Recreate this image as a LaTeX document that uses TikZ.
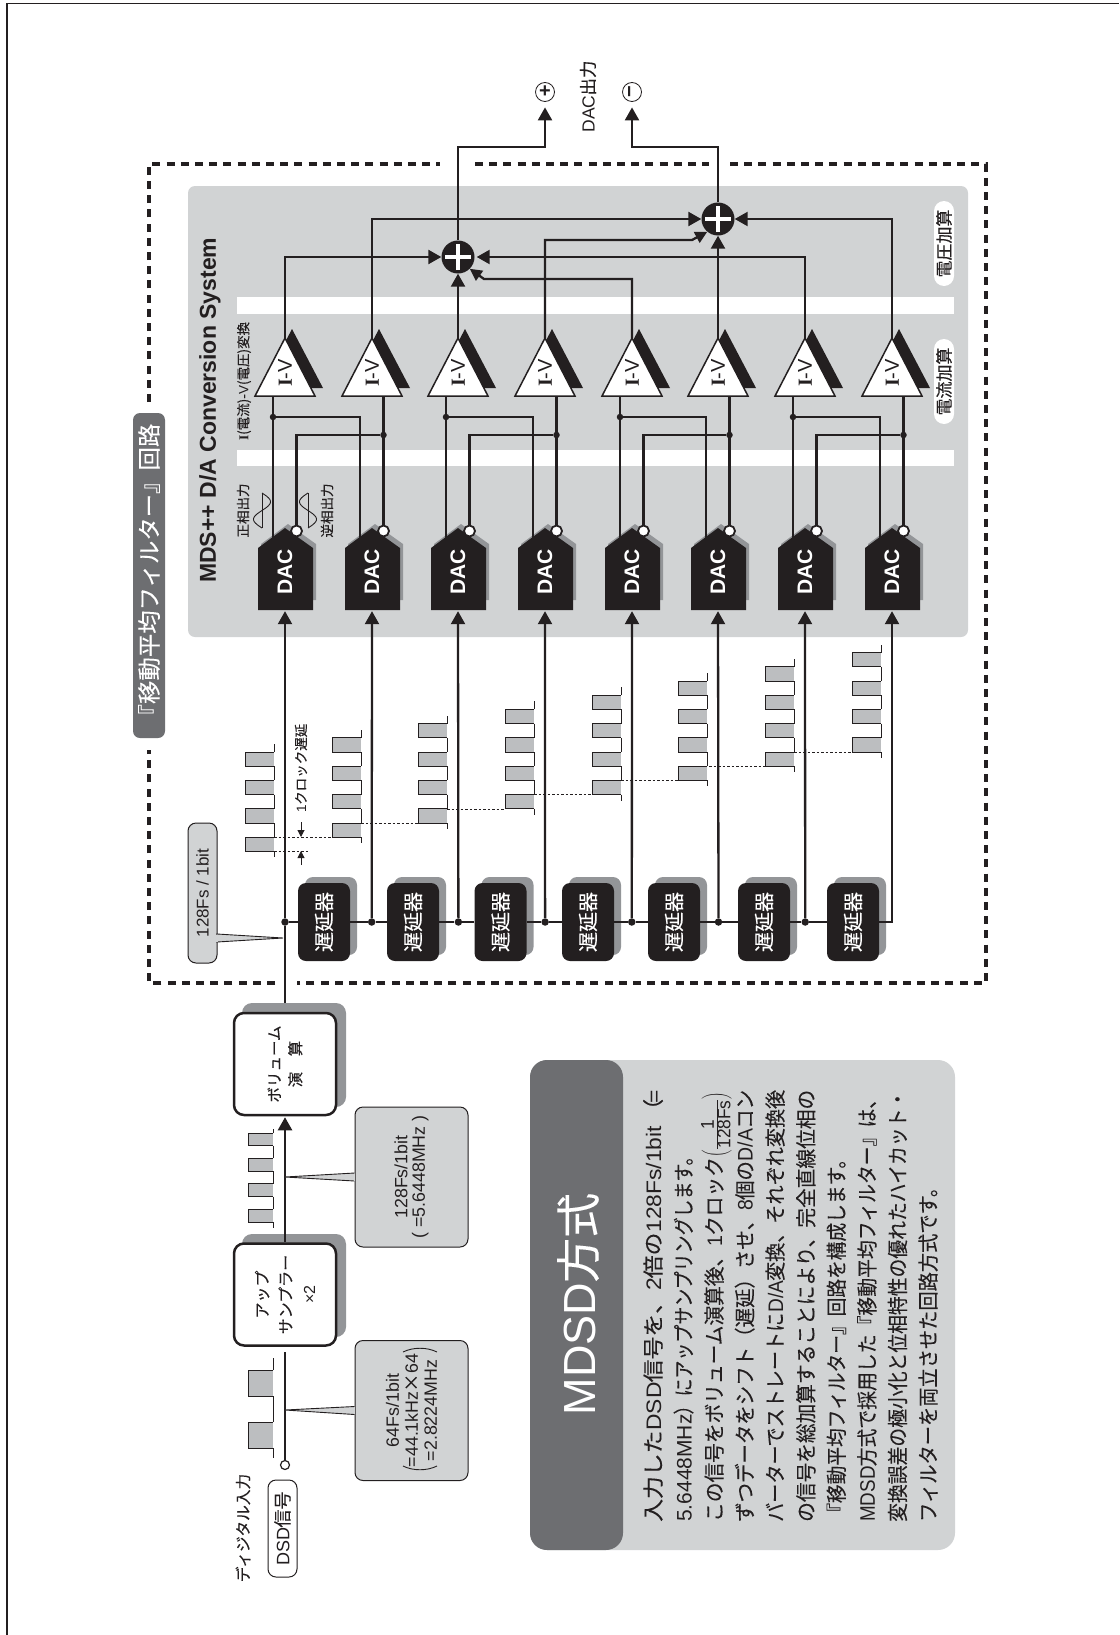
\documentclass[tikz,border=0pt]{standalone}
\usepackage{graphicx}
\usepackage{fontspec}
\setmainfont{Liberation Sans}
\newfontfamily\jpfont[FakeBold=0.12]{Noto Sans CJK JP}
\newfontfamily\serifI[BoldFont={Liberation Serif Bold}]{Liberation Serif}
\usetikzlibrary{arrows.meta}

\definecolor{inkblack}{HTML}{231F20}
\definecolor{panelgrey}{HTML}{D1D3D4}
\definecolor{pulsegrey}{HTML}{BCBEC0}
\definecolor{shadegrey}{HTML}{939598}
\definecolor{bandgrey}{HTML}{6D6E71}

\newcommand{\jp}[1]{{\jpfont #1}}
\newcommand{\fz}[1]{\fontsize{#1}{#1}\selectfont}
\newcommand{\ivI}{{\serifI\bfseries I}}

% squeezes one text line to a given length
\newsavebox{\linebox}
\newlength{\linew}
\newcommand{\fitline}[2]{%
  \sbox{\linebox}{#2}%
  \setlength{\linew}{\wd\linebox}%
  \pgfmathsetmacro{\fitx}{#1/\linew}%
  \scalebox{\fitx}[1]{\usebox{\linebox}}%
}

% pulses: left x, right x, first y, height, period, count-1, lead, tail
\newcommand{\pulses}[8]{%
  \foreach \k in {0,...,#6} {
    \pgfmathsetmacro{\ya}{#3+\k*#5}
    \pgfmathsetmacro{\yb}{\ya+#4}
    \pgfmathsetmacro{\yc}{\yb+#5-#4}
    \fill[pulsegrey] (#1,\ya) rectangle (#2,\yb);
    \draw[wave] (#2,\ya) -- (#1,\ya) -- (#1,\yb) -- (#2,\yb);
    \ifnum\k<#6 \draw[wave] (#2,\yb) -- (#2,\yc); \fi
  }
  \draw[wave] (#2,#3) -- (#2,#3-#7);
  \pgfmathsetmacro{\yd}{#3+#6*#5+#4}
  \draw[wave] (#2,\yd) -- (#2,\yd+#8);
}

\tikzset{
  sig/.style={draw=inkblack, line width=2.3pt},
  sigtip/.style={sig, -{Triangle[length=13pt,width=14pt]}},
  smalltip/.style={sig, -{Triangle[length=12pt,width=12pt]}},
  wave/.style={draw=inkblack, line width=0.9pt},
  thinline/.style={draw=inkblack, line width=0.9pt},
  dotted line/.style={draw=inkblack, line width=1pt, dash pattern=on 2.5pt off 2pt},
  frameline/.style={draw=inkblack, line width=4pt, dash pattern=on 8pt off 6.2pt},
  dotnode/.style={circle, fill=inkblack, minimum size=7.5pt, inner sep=0pt},
  sumnode/.style={circle, fill=inkblack, minimum size=33pt, inner sep=0pt},
  outnode/.style={circle, draw=inkblack, line width=0.8pt, minimum size=19pt, inner sep=0pt, font=\bfseries\fz{20}},
  dacpin/.style={circle, draw=inkblack, fill=white, line width=1.8pt, minimum size=11pt, inner sep=0pt},
  daclabel/.style={rotate=90, minimum width=76pt, inner sep=0pt, text=white, font=\bfseries\fz{21}},
  ivlabel/.style={rotate=90, inner sep=0pt, font=\fz{20}},
  delaybox/.style={rotate=90, rounded corners=8pt, fill=inkblack, minimum width=78pt, minimum height=52pt, inner sep=0pt, text=white, font=\fz{20}},
  procbox/.style={rotate=90, rounded corners=10pt, draw=inkblack, fill=white, line width=2.5pt, minimum width=102pt, minimum height=102pt, inner sep=0pt, align=center},
  callout/.style={rotate=90, rounded corners=8pt, draw=inkblack, fill=panelgrey, line width=1pt, minimum height=113pt, minimum width=140pt, inner sep=0pt, align=center},
  pill/.style={rotate=90, rounded corners=10pt, fill=white, minimum width=85pt, minimum height=20pt, inner sep=0pt, font=\fz{17}},
  tinytext/.style={rotate=90, inner sep=0pt, font=\fz{13.5}},
  bodyline/.style={rotate=90, anchor=base west, inner sep=0pt, font=\fz{21}},
}

\begin{document}
\begin{tikzpicture}[x=1pt, y=-1pt, text=inkblack]
  \useasboundingbox (0,0) rectangle (1119,1635);

  % -- Page edge --
  \draw[draw=inkblack, line width=1.5pt] (7,1635) -- (7,3.5) -- (1119,3.5);

  % -- Circuit frame --
  \draw[frameline] (149,402) -- (149,164) -- (440,164);
  \draw[frameline] (475,164) -- (709,164);
  \draw[frameline] (730,164) -- (986,164) -- (986,983) -- (297,983);
  \draw[frameline] (275,983) -- (149,983) -- (149,750);
  \node[rotate=90, rounded corners=7pt, fill=bandgrey, minimum width=325pt, minimum height=32pt, inner sep=0pt, text=white, font=\fz{23.4}] (filtertag) at (149,575.5) {\jp{『移動平均フィルター』回路}};

  % -- D/A panel --
  \fill[panelgrey, rounded corners=7pt] (188,186) rectangle (968,637);
  \fill[white] (237,297) rectangle (954,314);
  \fill[white] (237,450) rectangle (954,466);
  \node[rotate=90, anchor=west, inner sep=0pt, font=\bfseries\fz{23}] (systitle) at (210,583) {MDS++ D/A Conversion System};
  \node[tinytext] (ivnote) at (244,381) {\ivI\jp{(電流)-}V\jp{(電圧)変換}};
  \node[pill] (sumvolt) at (944,243.5) {\jp{電圧加算}};
  \node[pill] (sumcurr) at (944,381.5) {\jp{電流加算}};
  \node[tinytext] (posnote) at (243,510.5) {\jp{正相出力}};
  \node[tinytext] (negnote) at (327,510.5) {\jp{逆相出力}};
  \draw[thinline] (262,493) -- (262,528);
  \draw[thinline] plot[domain=0:360, samples=37, smooth] ({262+8.5*sin(\x)},{493+35*\x/360});
  \draw[thinline] (308,493) -- (308,528);
  \draw[thinline] plot[domain=0:360, samples=37, smooth] ({308-8.5*sin(\x)},{493+35*\x/360});

  % -- Columns: I-V, DAC, tap --
  \foreach \x [count=\i] in {285,372,458,545,632,718,805,892} {
    \fill[inkblack] (\x+7,329) -- (\x+38,388) -- (\x-24,388) -- cycle;
    \filldraw[draw=inkblack, fill=white, line width=1.5pt] (\x,338) -- (\x+30,396) -- (\x-30,396) -- cycle;
    \node[ivlabel] (iv\i) at (\x,373) {\ivI-V};
    \coordinate (apex\i) at (\x,338);
    \coordinate (ivp\i) at (\x-12,396);
    \coordinate (ivn\i) at (\x+11.5,396);
    \coordinate (dacp\i) at (\x-12,540);
    \fill[shadegrey] (\x-24,600) -- (\x+31,600) -- (\x+31,544) -- (\x+3,524) -- (\x-24,544) -- cycle;
    \fill[inkblack] (\x-27,610) -- (\x+28,610) -- (\x+28,548) -- (\x,528) -- (\x-27,548) -- cycle;
    \node[daclabel] (dac\i) at (\x,572) {DAC};
    \node[dacpin] (dacn\i) at (\x+11.5,531) {};
    \pgfmathsetmacro{\firsty}{752-14.2*(\i-1)}
    \pulses{\x-40}{\x-11}{\firsty}{14.2}{28.4}{3}{8}{6}
  }
  \foreach \i in {1,...,7} {
    \pgfmathsetmacro{\tapx}{285+86.7*(\i-1)}
    \node[dotnode] (tap\i) at (\tapx,922) {};
  }

  % -- Current summing wires --
  \foreach \a/\b in {1/2,3/4,5/6,7/8} {
    \draw[sig] (ivp\a) -- (dacp\a);
    \node[dotnode, minimum size=6.5pt] (jp\a) at (dacp\a |- 0,417) {};
    \draw[sig] (jp\a) -| (dacp\b);
    \draw[sig] (ivn\b) -- (dacn\b);
    \node[dotnode, minimum size=6.5pt] (jn\b) at (dacn\b |- 0,435) {};
    \draw[sig] (jn\b) -| (dacn\a);
  }

  % -- Voltage summing --
  \node[sumnode] (sumP) at (458,257) {};
  \node[sumnode] (sumN) at (718,219) {};
  \foreach \s in {sumP,sumN} {
    \draw[draw=white, line width=3.5pt] ([xshift=-13pt]\s.center) -- ([xshift=13pt]\s.center);
    \draw[draw=white, line width=3.5pt] ([yshift=-13pt]\s.center) -- ([yshift=13pt]\s.center);
  }
  \coordinate (elbowP) at (484,279);
  \coordinate (elbowN) at (692,240);
  \draw[sigtip] (apex1) |- (sumP.west);
  \draw[sigtip] (apex3) -- (sumP.south);
  \draw[sigtip, shorten >=2pt] (apex7) |- (sumP.east);
  \draw[smalltip] (apex5) |- (elbowP) -- (sumP.-45);
  \draw[sigtip] (apex2) |- (sumN.west);
  \draw[sigtip] (apex6) -- (sumN.south);
  \draw[sigtip] (apex8) |- (sumN.east);
  \draw[smalltip] (apex4) |- (elbowN) -- (sumN.230);

  % -- Outputs --
  \node[outnode] (outP) at (545,92) {+};
  \node[outnode, rotate=90] (outN) at (632,92) {−};
  \coordinate (turnP) at (545,147);
  \coordinate (turnN) at (632,147);
  \draw[sigtip, shorten >=5.5pt] (sumP.north) |- (turnP) -- (outP.south);
  \draw[sigtip, shorten >=5.5pt] (sumN.north) |- (turnN) -- (outN.west);
  \node[rotate=90, inner sep=0pt, font=\fz{17.5}] (dacout) at (588,96.5) {DAC\jp{出力}};

  % -- Delay chain --
  \foreach \x [count=\i] in {324,413,500.5,588,674,764,853} {
    \fill[shadegrey, rounded corners=8pt] (\x-19,877) rectangle (\x+33,955);
    \node[delaybox] (del\i) at (\x,922) {\jp{遅延器}};
  }
  \foreach \i [count=\j from 2] in {1,...,6} {
    \draw[sig] (tap\i) -- (del\i.north);
    \draw[sig] (del\i.south) -- (tap\j);
  }
  \draw[sig] (tap7) -- (del7.north);
  \foreach \i in {1,...,7} {
    \draw[sigtip, shorten >=1pt] (tap\i) -- (dac\i.west);
  }
  \draw[sigtip, shorten >=1pt] (del7.south) -| (dac8.west);

  % -- Clock skew marks --
  \foreach \xa/\xb/\y in {274/332/837,361/418/823,447/505/809,534/592/794.6,621/680/780,709/766/766,794/854/752} {
    \draw[dotted line] (\xa,\y) -- (\xb,\y);
  }
  \draw[dotted line] (274,851) -- (308,851);
  \coordinate (skewA) at (301,822);
  \coordinate (skewB) at (301,837);
  \coordinate (skewC) at (301,865);
  \coordinate (skewD) at (301,851);
  \draw[draw=inkblack, line width=1pt, -{Triangle[length=7pt,width=7pt]}] (skewA) -- (skewB);
  \draw[draw=inkblack, line width=1pt, -{Triangle[length=7pt,width=7pt]}] (skewC) -- (skewD);
  \node[rotate=90, inner sep=0pt, font=\fz{13.5}] (clocknote) at (301,768) {1\jp{クロック遅延}};

  % -- Rate tag on the bus --
  \node[callout, minimum height=29pt, font=\fz{17}] (ratetag) at (202.5,893) {128Fs / 1bit};
  \coordinate (ratetip) at (283,938);
  \fill[panelgrey] (217,934) -- (ratetip) -- (217,942) -- cycle;
  \draw[thinline] (216,934) -- (217,934) -- (ratetip) -- (217,942) -- (216,942);
  \draw[draw=panelgrey, line width=1.5pt] (217,934.5) -- (217,941.5);

  % -- Processing blocks --
  \fill[shadegrey, rounded corners=10pt] (242,1003) rectangle (346,1107);
  \fill[shadegrey, rounded corners=10pt] (242,1234) rectangle (346,1337);
  \coordinate (volin) at (285,1003);
  \draw[sig] (volin) -- (tap1);
  \node[procbox, font=\fontsize{15.5}{21}\selectfont] (vol) at (285,1064) {\jp{ボリューム}\\\jp{演　算}};
  \node[procbox, font=\fontsize{16}{23.5}\selectfont] (ups) at (285,1294.5) {\jp{アップ}\\\jp{サンプラー}\\×2};
  \draw[sigtip, shorten >=1pt] (ups.east) -- (vol.west);
  \node[circle, draw=inkblack, fill=white, line width=1.2pt, minimum size=9pt, inner sep=0pt] (indot) at (285,1465) {};
  \coordinate (upsin) at (285,1352);
  \draw[sig] (upsin) -- (indot);

  % -- Input pulses --
  \pulses{248}{273}{1133}{12.8}{25.4}{3}{4}{6}
  \pulses{248}{273}{1370}{26}{52}{1}{12}{10}

  % -- Input notes --
  \node[callout, font=\fontsize{17.8}{17.5}\selectfont] (noteB) at (411.5,1177) {128Fs/1bit\\(\hspace{5pt}=5.6448MHz\hspace{5pt})};
  \node[callout, font=\fontsize{17.8}{19}\selectfont] (noteA) at (411.5,1410.5) {64Fs/1bit\\=44.1kHz\jp{×}64\\=2.8224MHz};
  \draw[thinline] (403,1466) .. controls (413,1471) and (427,1471) .. (437,1466);
  \draw[thinline] (403,1352) .. controls (413,1347) and (427,1347) .. (437,1352);
  \coordinate (tipB) at (285,1177);
  \coordinate (tipA) at (285,1410);
  \fill[panelgrey] ([yshift=4pt]noteB.north) -- (tipB) -- ([yshift=-4pt]noteB.north) -- cycle;
  \draw[thinline] ([yshift=4pt]noteB.north) -- (tipB) -- ([yshift=-4pt]noteB.north);
  \draw[draw=panelgrey, line width=1.5pt] ([yshift=3.5pt]noteB.north) -- ([yshift=-3.5pt]noteB.north);
  \fill[panelgrey] ([yshift=4pt]noteA.north) -- (tipA) -- ([yshift=-4pt]noteA.north) -- cycle;
  \draw[thinline] ([yshift=4pt]noteA.north) -- (tipA) -- ([yshift=-4pt]noteA.north);
  \draw[draw=panelgrey, line width=1.5pt] ([yshift=3.5pt]noteA.north) -- ([yshift=-3.5pt]noteA.north);

  % -- Input label --
  \node[rotate=90, rounded corners=8pt, draw=inkblack, fill=white, line width=1pt, minimum width=97pt, minimum height=29pt, inner sep=0pt, font=\fz{18}] (dsd) at (282.5,1528.5) {DSD\jp{信号}};
  \node[rotate=90, inner sep=0pt, font=\fz{15.7}] (dinput) at (243,1528) {\jp{ディジタル入力}};

  % -- MDSD text panel --
  \fill[panelgrey, rounded corners=17pt] (530,1060) rectangle (955,1550);
  \fill[bandgrey, rounded corners=17pt] (530,1060) -- (623,1060) -- (623,1550) -- (530,1550) -- cycle;
  \node[rotate=90, inner sep=0pt, text=white, font=\fz{45}] (mdsdtitle) at (578,1304) {MDSD\jp{方式}};
  \node[bodyline] (line1) at (661,1522) {\fitline{432}{\jp{入力した}DSD\jp{信号を、}2\jp{倍の}128Fs/1bit\hspace{4pt}\jp{（}\hspace{-4pt}=}};
  \node[bodyline] (line2) at (691.5,1522) {5.6448MHz\fitline{267}{\jp{）にアップサンプリングします。}}};
  \node[bodyline] (line3) at (722,1522) {\fitline{430}{\jp{この信号をボリューム演算後、}1\jp{クロック}$\left(\frac{\hbox{\fz{18.5}1}}{\hbox{\fz{18.5}128Fs}}\right)$}};
  \node[bodyline] (line4) at (752.7,1522) {\fitline{432}{\jp{ずつデータをシフト（遅延）させ、}8\jp{個の}D/A\jp{コン}}};
  \node[bodyline] (line5) at (783,1522) {\fitline{432}{\jp{バーターでストレートに}D/A\jp{変換、それぞれ変換後}}};
  \node[bodyline] (line6) at (813.8,1522) {\fitline{432}{\jp{の信号を総加算することにより、完全直線位相の}}};
  \node[bodyline] (line7) at (844.3,1522) {\fitline{372}{\jp{『移動平均フィルター』回路を構成します。}}};
  \node[bodyline] (line8) at (874.9,1522) {\fitline{432}{MDSD\jp{方式で採用した『移動平均フィルター』は、}}};
  \node[bodyline] (line9) at (905.4,1522) {\fitline{432}{\jp{変換誤差の極小化と位相特性の優れたハイカット・}}};
  \node[bodyline] (line10) at (936,1522) {\fitline{344}{\jp{フィルターを両立させた回路方式です。}}};

\end{tikzpicture}
\end{document}
